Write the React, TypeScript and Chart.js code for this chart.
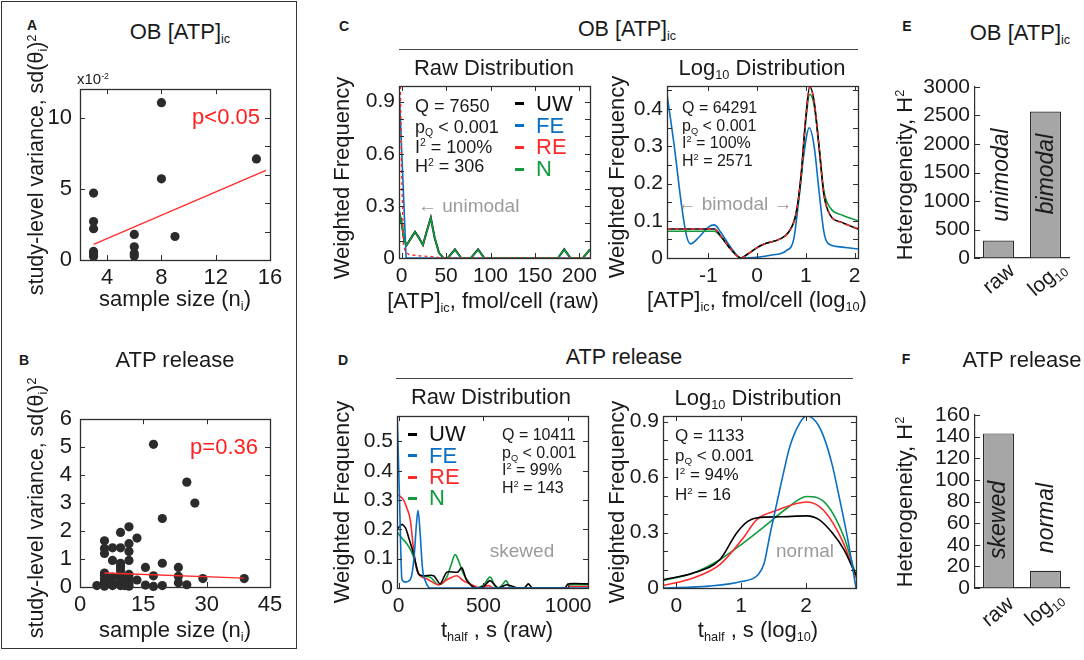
import React, { useEffect, useRef } from 'react';
import { Chart, registerables } from 'chart.js';
Chart.register(...registerables);

const FONT = '"Liberation Sans", Arial, Helvetica, sans-serif';
const TXT = '#1a1a1a';
const AX = '#2e2e2e';
const GRAY = '#9b9b9b';
const C_UW = '#000000';
const C_FE = '#0a6fc2';
const C_RE = '#ff2a2a';
const C_N = '#119a3e';

// ---------- Panel A (OB [ATP]ic scatter) ----------
const aSampleSize = [3, 3, 3, 3, 3, 3, 6, 6, 6, 6, 8, 8, 9, 15];
const aVariance = [4.7, 2.7, 2.2, 0.6, 0.42, 0.25, 1.8, 0.93, 0.46, 0.28, 11.05, 5.7, 1.65, 7.1];
const aFitX = [3, 15.7];
const aFitY = [1.1, 6.3];
const aXTicks = [4, 8, 12, 16];
const aYTicks = [0, 5, 10];
const aYRightTicks = [0, 2, 4, 6, 8, 10, 12];

// ---------- Panel B (ATP release scatter) ----------
const bSampleSize = [4, 5.8, 5.8, 5.8, 5.8, 5.8, 5.8, 5.8, 5.8, 5.8, 7.7, 7.7, 7.7, 7.7, 7.7, 9.6, 9.6, 9.6, 9.6, 9.6, 9.6, 9.6, 9.6, 9.6, 10.6, 10.6, 11.6, 11.6, 11.6, 11.6, 11.6, 11.6, 11.6, 11.6, 13.5, 13.5, 15.5, 15.5, 17.4, 17.4, 17.4, 19.5, 19.5, 19.5, 23.3, 23.3, 23.3, 25.3, 25.3, 27.2, 29.1, 38.9];
const bVariance = [0.05, 1.65, 1.38, 1.2, 0.5, 0.42, 0.3, 0.2, 0.1, 0.03, 1.4, 0.95, 0.35, 0.15, 0.05, 1.95, 1.4, 0.85, 0.72, 0.6, 0.45, 0.3, 0.15, 0.05, 0.05, 0.2, 2.15, 1.55, 1.27, 0.95, 0.45, 0.3, 0.12, 0.03, 1.75, 0.25, 0.7, 0.07, 5.1, 0.4, 0.02, 2.45, 0.85, 0.05, 0.7, 0.38, 0.15, 3.75, 0.08, 3.0, 0.3, 0.3];
const bFitX = [5.8, 38.9];
const bFitY = [0.5, 0.32];
const bXTicks = [0, 15, 30, 45];
const bYTicks = [0, 1, 2, 3, 4, 5, 6];

// ---------- Panel C raw ----------
const cRawNx = [-3, 0, 3, 5.6, 10, 15, 19, 24, 28, 32.8, 37, 42, 47, 52, 60, 67, 78, 86, 93, 176, 183, 190, 204, 212];
const cRawNy = [0.27, 0.2, 0.1, 0.075, 0.11, 0.15, 0.12, 0.075, 0.15, 0.23, 0.12, 0.03, 0, 0, 0.048, 0, 0, 0.048, 0, 0, 0.048, 0, 0, 0.05];
const cRawUWx = [-3, 0, 3, 5.6, 10, 15, 19, 24, 28, 32.8, 37, 42, 47, 52, 60, 67, 78, 86, 93, 176, 183, 190, 204, 212];
const cRawUWy = [0.27, 0.2, 0.1, 0.075, 0.11, 0.15, 0.12, 0.075, 0.15, 0.232, 0.12, 0.03, 0, 0, 0.05, 0, 0, 0.05, 0, 0, 0.05, 0, 0, 0.05];
const cRawFEx = [-3, 1, 5, 212];
const cRawFEy = [0.99, 0.5, 0, 0];
const cRawREx = [-1.5, 0, 2, 4, 8, 20, 35, 45, 212];
const cRawREy = [0.99, 0.5, 0.08, 0.04, 0.02, 0.012, 0.008, 0, 0];
const cRawXTicks = [0, 50, 100, 150, 200];
const cRawYTicks = [0, 0.1, 0.2, 0.3, 0.4, 0.5, 0.6, 0.7, 0.8, 0.9];
const cRawYLabeled = [0, 0.3, 0.6, 0.9];

// ---------- Panel C log10 ----------
const cLogFEx = [-1.85, -1.7, -1.55, -1.45, -1.37, -1.2, -1.0, -0.88, -0.75, -0.55, -0.33, 0, 0.3, 0.6, 0.75, 0.85, 0.95, 1.07, 1.17, 1.27, 1.37, 1.45, 1.7, 2.07];
const cLogFEy = [0.44, 0.3, 0.14, 0.06, 0.038, 0.055, 0.083, 0.089, 0.07, 0.03, 0, 0.002, 0.008, 0.02, 0.05, 0.15, 0.27, 0.35, 0.3, 0.18, 0.07, 0.04, 0.03, 0.024];
const cLogUWx = [-1.85, -0.88, -0.75, -0.55, -0.33, -0.2, 0, 0.2, 0.45, 0.65, 0.8, 0.9, 1.0, 1.08, 1.17, 1.27, 1.37, 1.5, 1.75, 2.07];
const cLogUWy = [0.078, 0.078, 0.06, 0.025, 0, 0.01, 0.028, 0.04, 0.05, 0.07, 0.12, 0.22, 0.38, 0.46, 0.42, 0.3, 0.17, 0.115, 0.095, 0.078];
const cLogREx = [-1.85, -0.88, -0.75, -0.55, -0.33, -0.2, 0, 0.2, 0.45, 0.65, 0.8, 0.9, 1.0, 1.08, 1.17, 1.27, 1.37, 1.5, 1.75, 2.07];
const cLogREy = [0.078, 0.078, 0.06, 0.025, 0, 0.01, 0.028, 0.04, 0.05, 0.07, 0.12, 0.22, 0.38, 0.46, 0.42, 0.3, 0.17, 0.115, 0.095, 0.078];
const cLogNx = [-1.85, -0.88, -0.75, -0.55, -0.33, -0.2, 0, 0.2, 0.45, 0.65, 0.8, 0.9, 1.0, 1.08, 1.17, 1.27, 1.37, 1.5, 1.75, 2.07];
const cLogNy = [0.072, 0.072, 0.058, 0.025, 0, 0.01, 0.028, 0.04, 0.05, 0.07, 0.12, 0.21, 0.37, 0.44, 0.41, 0.3, 0.18, 0.135, 0.115, 0.1];
const cLogXTicks = [-1, 0, 1, 2];
const cLogYTicks = [0, 0.05, 0.1, 0.15, 0.2, 0.25, 0.3, 0.35, 0.4, 0.45];
const cLogYLabeled = [0, 0.1, 0.2, 0.3, 0.4];

// ---------- Panel D raw ----------
const dRawFEx = [-10, 5, 19, 39, 70, 90, 105, 114, 125, 140, 160, 186, 1117];
const dRawFEy = [0.62, 0.3, 0.03, 0.02, 0.03, 0.1, 0.22, 0.265, 0.2, 0.07, 0.02, 0, 0];
const dRawUWx = [-10, 19, 40, 60, 88, 110, 123, 150, 206, 245, 284, 347, 373, 402, 451, 500, 539, 588, 637, 700, 740, 765, 790, 980, 1000, 1117];
const dRawUWy = [0.2, 0.217, 0.205, 0.17, 0.117, 0.06, 0.045, 0.042, 0.042, 0.014, 0.054, 0.054, 0.069, 0.025, 0, 0.005, 0.025, 0, 0.011, 0, 0, 0.014, 0, 0, 0.014, 0.014];
const dRawREx = [-10, 29, 50, 69, 90, 108, 130, 167, 235, 290, 343, 380, 422, 480, 530, 560, 1000, 1010, 1117];
const dRawREy = [0.32, 0.3, 0.27, 0.23, 0.12, 0.06, 0.04, 0.031, 0.011, 0.03, 0.042, 0.025, 0.014, 0, 0.008, 0, 0, 0.005, 0.005];
const dRawNx = [-10, 20, 49, 70, 88, 105, 118, 150, 186, 235, 284, 310, 333, 355, 382, 420, 451, 500, 539, 570, 588, 610, 633, 660, 1000, 1010, 1117];
const dRawNy = [0.19, 0.17, 0.15, 0.13, 0.105, 0.07, 0.048, 0.04, 0.037, 0.011, 0.037, 0.08, 0.114, 0.09, 0.048, 0.015, 0, 0.01, 0.037, 0.005, 0, 0.01, 0.025, 0, 0, 0.011, 0.011];
const dRawXTicks = [0, 500, 1000];
const dRawYTicks = [0, 0.1, 0.2, 0.3, 0.4, 0.5];

// ---------- Panel D log10 ----------
const dLogFEx = [-0.2, 0.5, 1.0, 1.26, 1.35, 1.45, 1.55, 1.65, 1.75, 1.9, 2.01, 2.15, 2.27, 2.4, 2.53, 2.65, 2.77];
const dLogFEy = [0, 0.01, 0.035, 0.072, 0.13, 0.3, 0.46, 0.62, 0.765, 0.89, 0.93, 0.9, 0.82, 0.67, 0.46, 0.25, 0];
const dLogUWx = [-0.2, 0.26, 0.67, 0.93, 1.1, 1.25, 1.6, 2.01, 2.2, 2.4, 2.58, 2.77];
const dLogUWy = [0.045, 0.081, 0.153, 0.297, 0.36, 0.38, 0.385, 0.39, 0.37, 0.3, 0.21, 0.07];
const dLogREx = [-0.2, 0.26, 0.67, 1.03, 1.24, 1.55, 2.01, 2.27, 2.58, 2.77];
const dLogREy = [0.013, 0.054, 0.126, 0.27, 0.37, 0.42, 0.465, 0.42, 0.24, 0.055];
const dLogNx = [-0.2, 0.26, 0.67, 1.03, 1.39, 1.7, 2.01, 2.27, 2.58, 2.77];
const dLogNy = [0.041, 0.081, 0.153, 0.243, 0.342, 0.43, 0.495, 0.468, 0.28, 0.065];
const dLogXTicks = [0, 1, 2];
const dLogYTicks = [0, 0.1, 0.2, 0.3, 0.4, 0.5, 0.6, 0.7, 0.8, 0.9];
const dLogYLabeled = [0, 0.3, 0.6, 0.9];

// ---------- Panels E, F (heterogeneity bars) ----------
const hetCategories = ['raw', 'log10'];
const eHeterogeneity = [306, 2571];
const fHeterogeneity = [143, 16];
const eYTicks = [0, 500, 1000, 1500, 2000, 2500, 3000];
const fYTicks = [0, 20, 40, 60, 80, 100, 120, 140, 160];

const seriesNames = ['UW', 'FE', 'RE', 'N'];
const seriesColors = [C_UW, C_FE, C_RE, C_N];

// ---------- helpers ----------
type Rect = { l: number; t: number; r: number; b: number };
const YW = 60, XH = 50, PT = 20;

const pts = (xs: number[], ys: number[]) => xs.map((x, i) => ({ x, y: ys[i] }));
const fmt = (v: number) => (Math.abs(v) < 1e-9 ? '0' : String(Math.round(v * 1000) / 1000));
const isIn = (arr: number[] | undefined, v: number) => !arr || arr.some((a) => Math.abs(a - v) < 1e-9);
const setTicks = (vals: number[]) => (sc: any) => { sc.ticks = vals.map((v) => ({ value: v })); };

// draws MATLAB-like inward tick marks (and optional full box) using the chart's own scales
const boxTicks = {
  id: 'boxTicks',
  afterDatasetsDraw(chart: any, _a: any, o: any) {
    if (!o || !o.on) return;
    const { ctx, chartArea: ca, scales } = chart;
    const L = 5;
    ctx.save();
    ctx.strokeStyle = AX;
    ctx.lineWidth = 1;
    ctx.beginPath();
    const sx = scales.x, sy = scales.y;
    const px = (v: number) => Math.round(sx.getPixelForValue(v)) + 0.5;
    const py = (v: number) => Math.round(sy.getPixelForValue(v)) + 0.5;
    (o.xb || []).forEach((v: number) => { const p = px(v); ctx.moveTo(p, ca.bottom); ctx.lineTo(p, ca.bottom - L); });
    (o.xt || []).forEach((v: number) => { const p = px(v); ctx.moveTo(p, ca.top); ctx.lineTo(p, ca.top + L); });
    (o.yl || []).forEach((v: number) => { const p = py(v); ctx.moveTo(ca.left, p); ctx.lineTo(ca.left + L, p); });
    (o.yr || []).forEach((v: number) => { const p = py(v); ctx.moveTo(ca.right, p); ctx.lineTo(ca.right - L, p); });
    ctx.stroke();
    if (o.box) {
      ctx.lineWidth = 1.3;
      ctx.strokeRect(Math.round(ca.left) + 0.5, Math.round(ca.top) + 0.5, Math.round(ca.right - ca.left), Math.round(ca.bottom - ca.top));
    }
    ctx.restore();
  },
};

interface AxSpec {
  xMin: number; xMax: number; xTicks: number[]; xLabeled?: number[];
  yMin: number; yMax: number; yTicks: number[]; yRightTicks?: number[]; yLabeled?: number[];
  font: number; xPad: number; yPad: number;
}

function linOptions(s: AxSpec) {
  const grid = { drawOnChartArea: false, drawTicks: false };
  const border = { display: false };
  const font = { family: FONT, size: s.font };
  return {
    scales: {
      x: {
        type: 'linear', position: 'bottom', min: s.xMin, max: s.xMax,
        afterBuildTicks: setTicks(s.xTicks), afterFit: (sc: any) => { sc.height = XH; },
        ticks: { autoSkip: false, maxRotation: 0, minRotation: 0, font, color: TXT, padding: s.xPad,
          callback: (v: any) => (isIn(s.xLabeled, v) ? fmt(v) : '') },
        grid, border,
      },
      y: {
        type: 'linear', position: 'left', min: s.yMin, max: s.yMax,
        afterBuildTicks: setTicks(s.yTicks), afterFit: (sc: any) => { sc.width = YW; },
        ticks: { autoSkip: false, font, color: TXT, padding: s.yPad,
          callback: (v: any) => (isIn(s.yLabeled, v) ? fmt(v) : '') },
        grid, border,
      },
    },
    plugins: {
      boxTicks: { on: true, box: true, xb: s.xTicks, xt: s.xTicks, yl: s.yTicks, yr: s.yRightTicks || s.yTicks },
    },
  };
}

function ChartBox({ rect, pr, build }: { rect: Rect; pr: number; build: () => any }) {
  const ref = useRef<HTMLCanvasElement>(null);
  const w = rect.r - rect.l + YW + pr;
  const h = rect.b - rect.t + PT + XH;
  useEffect(() => {
    const cfg = build();
    const extra = (cfg.options && cfg.options.plugins) || {};
    cfg.plugins = [boxTicks];
    cfg.options = {
      ...cfg.options,
      responsive: false,
      maintainAspectRatio: false,
      animation: false,
      events: [],
      layout: { padding: { left: 0, top: PT, right: pr, bottom: 0 } },
      plugins: { legend: { display: false }, tooltip: { enabled: false }, title: { display: false }, ...extra },
    };
    const c = new Chart(ref.current as HTMLCanvasElement, cfg);
    return () => c.destroy();
  }, []);
  return (
    <canvas ref={ref} width={w} height={h}
      style={{ position: 'absolute', left: rect.l - YW, top: rect.t - PT, width: w, height: h }} />
  );
}

const line = (xs: number[], ys: number[], color: string, order: number, opts: any = {}) => ({
  type: 'line', data: pts(xs, ys), borderColor: color, backgroundColor: color, borderWidth: 1.6,
  pointRadius: 0, fill: false, order, cubicInterpolationMode: 'monotone', ...opts,
});

const scatterCfg = (xs: number[], ys: number[], fx: number[], fy: number[], opts: any) => ({
  type: 'scatter',
  data: {
    datasets: [
      { type: 'line', data: pts(fx, fy), borderColor: '#ff2a2a', borderWidth: 1.3, pointRadius: 0, order: 0 },
      { type: 'scatter', data: pts(xs, ys), backgroundColor: '#2b2b2b', borderWidth: 0, pointRadius: 4.6, order: 1, clip: false },
    ],
  },
  options: opts,
});

const barCfg = (vals: number[], yMax: number, yTicks: number[]) => ({
  type: 'bar',
  data: {
    labels: hetCategories,
    datasets: [{ data: vals, backgroundColor: '#a6a6a6', borderColor: '#2a2a2a', borderWidth: 1.2, barPercentage: 0.66, categoryPercentage: 1 }],
  },
  options: {
    scales: {
      x: {
        type: 'category', offset: true, afterFit: (sc: any) => { sc.height = XH; },
        ticks: { display: false }, grid: { drawOnChartArea: false, drawTicks: false },
        border: { display: true, color: AX, width: 1.2 },
      },
      y: {
        type: 'linear', min: 0, max: yMax, afterBuildTicks: setTicks(yTicks), afterFit: (sc: any) => { sc.width = YW; },
        ticks: { autoSkip: false, font: { family: FONT, size: 21 }, color: TXT, padding: 5, callback: (v: any) => String(v) },
        grid: { drawOnChartArea: false, drawTicks: false },
        border: { display: true, color: AX, width: 1.2 },
      },
    },
    plugins: { boxTicks: { on: true, box: false, yl: yTicks } },
  },
});

// ---------- text helpers ----------
const Sub = ({ c }: { c: string }) => <span style={{ fontSize: '0.58em', position: 'relative', top: '0.35em' }}>{c}</span>;
const Sup = ({ c }: { c: string }) => <span style={{ fontSize: '0.58em', position: 'relative', top: '-0.6em' }}>{c}</span>;

function T({ x, y, s = 20, rot = 0, a = 'c', col = TXT, b = false, it = false, children }: any) {
  const tx = a === 'c' ? '-50%' : a === 'r' ? '-100%' : '0';
  return (
    <div style={{
      position: 'absolute', left: x, top: y, transform: `translate(${tx},-50%) rotate(${rot}deg)`,
      fontSize: s, lineHeight: 1, color: col, fontWeight: b ? 'bold' : 'normal', fontStyle: it ? 'italic' : 'normal',
      whiteSpace: 'nowrap', fontFamily: FONT,
    }}>{children}</div>
  );
}

const catLabel = (c: string) => (c === 'log10' ? <>log<Sub c="10" /></> : c);

function Legend({ x, ys }: { x: number; ys: number[] }) {
  return (
    <>
      {seriesNames.map((n, i) => (
        <React.Fragment key={n}>
          <div style={{ position: 'absolute', left: x, top: ys[i] - 1.5, width: 9, height: 3, background: seriesColors[i] }} />
          <T x={x + 21} y={ys[i]} s={22} a="l" col={seriesColors[i] === C_UW ? '#111' : seriesColors[i]}>{n}</T>
        </React.Fragment>
      ))}
    </>
  );
}

const ATPic = () => <>[ATP]<Sub c="ic" /></>;

// ---------- rects ----------
const rA: Rect = { l: 80, t: 88, r: 270, b: 260 };
const rB: Rect = { l: 80, t: 418, r: 270, b: 587 };
const rCraw: Rect = { l: 399, t: 86, r: 590, b: 258 };
const rClog: Rect = { l: 667, t: 86, r: 858, b: 258 };
const rDraw: Rect = { l: 397, t: 416, r: 588, b: 588 };
const rDlog: Rect = { l: 663, t: 416, r: 856, b: 588 };
const rE: Rect = { l: 975, t: 87, r: 1069, b: 258 };
const rF: Rect = { l: 975, t: 415, r: 1069, b: 588 };

export default function App() {
  return (
    <div style={{ position: 'absolute', left: 0, top: 0, width: 1084, height: 660, background: '#fff', overflow: 'hidden', fontFamily: FONT }}>
      {/* frame around A/B */}
      <div style={{ position: 'absolute', left: 1, top: 1, width: 294, height: 646, border: '1.5px solid #333' }} />

      <ChartBox rect={rA} pr={30} build={() => scatterCfg(aSampleSize, aVariance, aFitX, aFitY,
        linOptions({ xMin: 2, xMax: 16, xTicks: aXTicks, yMin: 0, yMax: 12, yTicks: aYTicks, yRightTicks: aYRightTicks, font: 22, xPad: 5, yPad: 8 }))} />
      <ChartBox rect={rB} pr={30} build={() => scatterCfg(bSampleSize, bVariance, bFitX, bFitY,
        linOptions({ xMin: 0, xMax: 45, xTicks: bXTicks, yMin: 0, yMax: 6, yTicks: bYTicks, font: 22, xPad: 5, yPad: 8 }))} />

      <ChartBox rect={rCraw} pr={30} build={() => ({
        type: 'line',
        data: { datasets: [
          line(cRawREx, cRawREy, C_RE, 0, { borderDash: [3, 3], cubicInterpolationMode: 'default', tension: 0, borderWidth: 1.4 }),
          line(cRawNx, cRawNy, C_N, 1, { cubicInterpolationMode: 'default', tension: 0 }),
          line(cRawFEx, cRawFEy, C_FE, 2, { cubicInterpolationMode: 'default', tension: 0 }),
          line(cRawUWx, cRawUWy, C_UW, 3, { cubicInterpolationMode: 'default', tension: 0, borderWidth: 2 }),
        ] },
        options: linOptions({ xMin: -3, xMax: 212, xTicks: cRawXTicks, yMin: 0, yMax: 0.99, yTicks: cRawYTicks, yLabeled: cRawYLabeled, font: 21, xPad: 6, yPad: 4 }),
      })} />

      <ChartBox rect={rClog} pr={30} build={() => ({
        type: 'line',
        data: { datasets: [
          line(cLogREx, cLogREy, C_RE, 0, { borderDash: [4, 4], borderWidth: 1.4 }),
          line(cLogUWx, cLogUWy, C_UW, 1),
          line(cLogNx, cLogNy, C_N, 2),
          line(cLogFEx, cLogFEy, C_FE, 3),
        ] },
        options: linOptions({ xMin: -1.85, xMax: 2.07, xTicks: cLogXTicks, yMin: 0, yMax: 0.462, yTicks: cLogYTicks, yLabeled: cLogYLabeled, font: 21, xPad: 6, yPad: 4 }),
      })} />

      <ChartBox rect={rDraw} pr={30} build={() => ({
        type: 'line',
        data: { datasets: [
          line(dRawFEx, dRawFEy, C_FE, 0),
          line(dRawUWx, dRawUWy, C_UW, 1, { cubicInterpolationMode: 'default', tension: 0.25 }),
          line(dRawREx, dRawREy, C_RE, 2),
          line(dRawNx, dRawNy, C_N, 3),
        ] },
        options: linOptions({ xMin: -10, xMax: 1117, xTicks: dRawXTicks, yMin: 0, yMax: 0.587, yTicks: dRawYTicks, font: 21, xPad: 6, yPad: 4 }),
      })} />

      <ChartBox rect={rDlog} pr={30} build={() => ({
        type: 'line',
        data: { datasets: [
          line(dLogFEx, dLogFEy, C_FE, 0),
          line(dLogUWx, dLogUWy, C_UW, 1),
          line(dLogREx, dLogREy, C_RE, 2),
          line(dLogNx, dLogNy, C_N, 3),
        ] },
        options: linOptions({ xMin: -0.206, xMax: 2.77, xTicks: dLogXTicks, yMin: 0, yMax: 0.93, yTicks: dLogYTicks, yLabeled: dLogYLabeled, font: 21, xPad: 6, yPad: 4 }),
      })} />

      <ChartBox rect={rE} pr={10} build={() => barCfg(eHeterogeneity, 3000, eYTicks)} />
      <ChartBox rect={rF} pr={10} build={() => barCfg(fHeterogeneity, 160, fYTicks)} />

      {/* panel letters */}
      <T x={32} y={25} s={14} b>A</T>
      <T x={24} y={360} s={14} b>B</T>
      <T x={344} y={26} s={14} b>C</T>
      <T x={343} y={360} s={14} b>D</T>
      <T x={907} y={26} s={14} b>E</T>
      <T x={906} y={359} s={14} b>F</T>

      {/* Panel A texts */}
      <T x={180} y={32} s={22}>OB <ATPic /></T>
      <T x={77} y={78} s={15} a="l">x10<Sup c="-2" /></T>
      <T x={37} y={165} s={21.5} rot={-90}>study-level variance, sd(θ<Sub c="i" />)<Sup c="2" /></T>
      <T x={175} y={299} s={22}>sample size (n<Sub c="i" />)</T>
      <T x={260} y={117} s={22} a="r" col="#ff2020">p&lt;0.05</T>

      {/* Panel B texts */}
      <T x={175} y={360} s={22}>ATP release</T>
      <T x={37} y={508} s={21.5} rot={-90}>study-level variance, sd(θ<Sub c="i" />)<Sup c="2" /></T>
      <T x={175} y={630} s={22}>sample size (n<Sub c="i" />)</T>
      <T x={258} y={447} s={22} a="r" col="#ff2020">p=0.36</T>

      {/* Group headers */}
      <T x={627} y={30} s={21.5}>OB <ATPic /></T>
      <div style={{ position: 'absolute', left: 399, top: 48.5, width: 459, height: 1.2, background: '#444' }} />
      <T x={624} y={358} s={21.5}>ATP release</T>
      <div style={{ position: 'absolute', left: 396, top: 377.5, width: 457, height: 1.2, background: '#444' }} />

      {/* C raw */}
      <T x={494} y={68} s={22}>Raw Distribution</T>
      <T x={342} y={178} s={22} rot={-90}>Weighted Frequency</T>
      <T x={415} y={106} s={18} a="l">Q = 7650</T>
      <T x={415} y={126.5} s={18} a="l">p<Sub c="Q" /> &lt; 0.001</T>
      <T x={415} y={146.5} s={18} a="l">I<Sup c="2" /> = 100%</T>
      <T x={415} y={166} s={18} a="l">H<Sup c="2" /> = 306</T>
      <Legend x={515} ys={[103.5, 125.5, 147, 169]} />
      <T x={418} y={205} s={19} a="l" col={GRAY}>← unimodal</T>
      <T x={493} y={301} s={22}><ATPic />, fmol/cell (raw)</T>

      {/* C log */}
      <T x={762} y={68} s={22}>Log<Sub c="10" /> Distribution</T>
      <T x={617} y={177} s={22} rot={-90}>Weighted Frequency</T>
      <T x={682} y={108} s={16} a="l">Q = 64291</T>
      <T x={682} y={126} s={16} a="l">p<Sub c="Q" /> &lt; 0.001</T>
      <T x={682} y={143} s={16} a="l">I<Sup c="2" /> = 100%</T>
      <T x={682} y={161} s={16} a="l">H<Sup c="2" /> = 2571</T>
      <T x={735} y={203} s={19} col={GRAY}>← bimodal →</T>
      <T x={757} y={300} s={22}><ATPic />, fmol/cell (log<Sub c="10" />)</T>

      {/* D raw */}
      <T x={491} y={397} s={22}>Raw Distribution</T>
      <T x={342} y={502} s={22} rot={-90}>Weighted Frequency</T>
      <Legend x={408} ys={[434, 455.5, 477, 498]} />
      <T x={502} y={435} s={16} a="l">Q = 10411</T>
      <T x={502} y={452.5} s={16} a="l">p<Sub c="Q" /> &lt; 0.001</T>
      <T x={502} y={470} s={16} a="l">I<Sup c="2" /> = 99%</T>
      <T x={502} y={487.5} s={16} a="l">H<Sup c="2" /> = 143</T>
      <T x={522} y={550} s={19} col={GRAY}>skewed</T>
      <T x={497} y={630} s={22}>t<Sub c="half" /> , s (raw)</T>

      {/* D log */}
      <T x={758} y={398} s={22}>Log<Sub c="10" /> Distribution</T>
      <T x={617} y={502} s={22} rot={-90}>Weighted Frequency</T>
      <T x={675} y={435} s={17} a="l">Q = 1133</T>
      <T x={675} y={454.5} s={17} a="l">p<Sub c="Q" /> &lt; 0.001</T>
      <T x={675} y={474} s={17} a="l">I<Sup c="2" /> = 94%</T>
      <T x={675} y={493.5} s={17} a="l">H<Sup c="2" /> = 16</T>
      <T x={805} y={550} s={19} col={GRAY}>normal</T>
      <T x={758} y={630} s={22}>t<Sub c="half" /> , s (log<Sub c="10" />)</T>

      {/* E */}
      <T x={1020} y={33} s={22}>OB <ATPic /></T>
      <T x={905} y={175} s={22} rot={-90}>Heterogeneity, H<Sup c="2" /></T>
      <T x={1000} y={175} s={23} rot={-90} it>unimodal</T>
      <T x={1045} y={174} s={23} rot={-90} it>bimodal</T>
      <T x={998} y={278} s={21} rot={-40}>{catLabel(hetCategories[0])}</T>
      <T x={1046} y={278} s={21} rot={-40}>{catLabel(hetCategories[1])}</T>

      {/* F */}
      <T x={1022} y={360} s={22}>ATP release</T>
      <T x={905} y={502} s={22} rot={-90}>Heterogeneity, H<Sup c="2" /></T>
      <T x={997} y={520} s={23} rot={-90} it>skewed</T>
      <T x={1045} y={518} s={23} rot={-90} it>normal</T>
      <T x={997} y={611} s={21} rot={-40}>{catLabel(hetCategories[0])}</T>
      <T x={1043} y={608} s={21} rot={-40}>{catLabel(hetCategories[1])}</T>
    </div>
  );
}
